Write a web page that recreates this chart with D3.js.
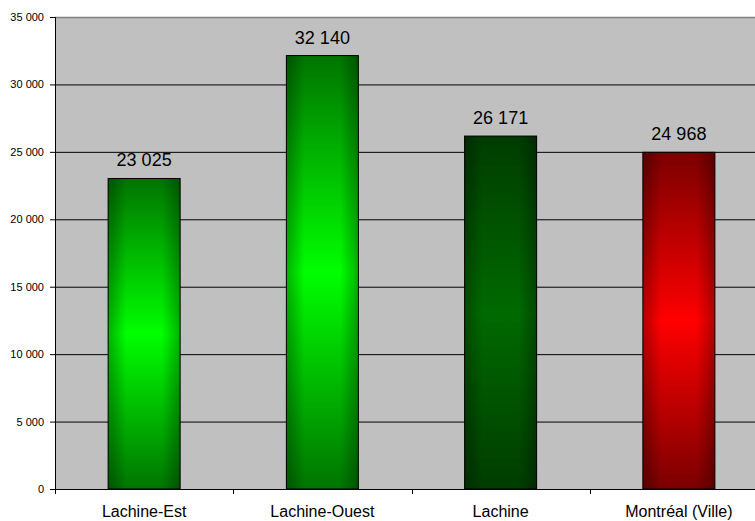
<!DOCTYPE html>
<html><head><meta charset="utf-8">
<script src="https://cdn.jsdelivr.net/npm/d3@7"></script>
<style>body{margin:0;background:#fff}svg{display:block}text{font-family:"Liberation Sans",Arial,sans-serif}</style>
</head><body>
<script>
const categories = ["Lachine-Est", "Lachine-Ouest", "Lachine", "Montréal (Ville)"];
const values = [23025, 32140, 26171, 24968];
const yTicks = [0, 5000, 10000, 15000, 20000, 25000, 30000, 35000];
const barLight = ["#00ff00", "#00ff00", "#006a00", "#ff0000"];
const barDark = ["#007400", "#007400", "#003c00", "#7a0000"];

const W = 755, H = 521;
const m = {left: 55, top: 17, bottom: 489, right: 768};
const fmt = v => d3.format(",")(v).replace(/,/g, " ");

const svg = d3.select("body").append("svg").attr("width", W).attr("height", H);
const defs = svg.append("defs");

const x = d3.scaleBand().domain(categories).range([m.left, m.right]).padding(0);
const y = d3.scaleLinear().domain([0, 35000]).range([m.bottom, m.top]);
const barW = x.bandwidth() * 0.404;

// plot background
svg.append("rect").attr("x", m.left).attr("y", m.top)
  .attr("width", m.right - m.left).attr("height", m.bottom - m.top).attr("fill", "#c0c0c0");

// gridlines
svg.append("g").selectAll("line").data(yTicks.filter(t => t > 0)).join("line")
  .attr("x1", m.left).attr("x2", m.right)
  .attr("y1", d => y(d) + 0.5).attr("y2", d => y(d) + 0.5)
  .attr("stroke", d => d === 35000 ? "#808080" : "#000").attr("stroke-width", d => d === 35000 ? 1.5 : 1);

// gradients
categories.forEach((c, i) => {
  const gv = defs.append("linearGradient").attr("id", "gv" + i).attr("x1", 0).attr("y1", 0).attr("x2", 0).attr("y2", 1);
  gv.append("stop").attr("offset", "0%").attr("stop-color", barDark[i]);
  gv.append("stop").attr("offset", "50%").attr("stop-color", barLight[i]);
  gv.append("stop").attr("offset", "100%").attr("stop-color", barDark[i]);
});
const gh = defs.append("linearGradient").attr("id", "gh").attr("x1", 0).attr("y1", 0).attr("x2", 1).attr("y2", 0);
gh.append("stop").attr("offset", "0%").attr("stop-color", "#000").attr("stop-opacity", 0.3);
gh.append("stop").attr("offset", "25%").attr("stop-color", "#000").attr("stop-opacity", 0);
gh.append("stop").attr("offset", "75%").attr("stop-color", "#000").attr("stop-opacity", 0);
gh.append("stop").attr("offset", "100%").attr("stop-color", "#000").attr("stop-opacity", 0.3);

const bars = svg.append("g").selectAll("g").data(categories).join("g");
bars.append("rect")
  .attr("x", d => x(d) + (x.bandwidth() - barW) / 2)
  .attr("y", (d, i) => y(values[i]))
  .attr("width", barW)
  .attr("height", (d, i) => y(0) - y(values[i]))
  .attr("fill", (d, i) => `url(#gv${i})`);
bars.append("rect")
  .attr("x", d => x(d) + (x.bandwidth() - barW) / 2)
  .attr("y", (d, i) => y(values[i]))
  .attr("width", barW)
  .attr("height", (d, i) => y(0) - y(values[i]))
  .attr("fill", "url(#gh)")
  .attr("stroke", "#000").attr("stroke-width", 1);

// value labels
bars.append("text")
  .attr("x", d => x(d) + x.bandwidth() / 2)
  .attr("y", (d, i) => y(values[i]) - 12)
  .attr("text-anchor", "middle").attr("font-size", 18).attr("fill", "#000")
  .text((d, i) => fmt(values[i]));

// y axis
const ya = svg.append("g").attr("transform", `translate(${m.left},0)`)
  .call(d3.axisLeft(y).tickValues(yTicks).tickFormat(fmt).tickSize(5).tickPadding(6));
ya.select(".domain").attr("stroke", "#000").attr("d", `M0.5,${m.top}V${m.bottom}`);
ya.selectAll("text").attr("font-size", 11).attr("font-family", "Liberation Sans, Arial, sans-serif").attr("fill", "#000");

// x axis
const xa = svg.append("g").attr("transform", `translate(0,${m.bottom})`)
  .call(d3.axisBottom(x).tickSize(0).tickPadding(17));
xa.select(".domain").remove();
xa.selectAll("text").attr("font-size", 16).attr("font-family", "Liberation Sans, Arial, sans-serif").attr("fill", "#000");
svg.append("line").attr("x1", m.left).attr("x2", m.right).attr("y1", m.bottom + 0.5).attr("y2", m.bottom + 0.5).attr("stroke", "#000");
svg.append("g").selectAll("line").data(d3.range(categories.length + 1)).join("line")
  .attr("x1", i => Math.round(m.left + i * x.step()) + 0.5)
  .attr("x2", i => Math.round(m.left + i * x.step()) + 0.5)
  .attr("y1", m.bottom).attr("y2", m.bottom + 5).attr("stroke", "#000");
</script>
</body></html>
